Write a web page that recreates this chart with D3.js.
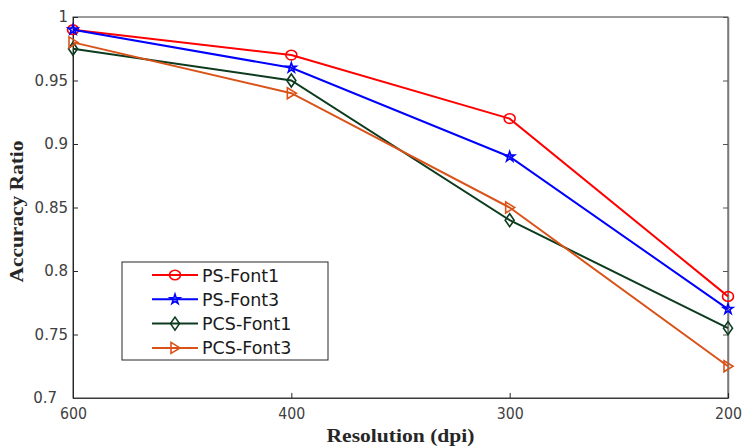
<!DOCTYPE html>
<html>
<head>
<meta charset="utf-8">
<script src="https://cdn.jsdelivr.net/npm/d3@7"></script>
<style>
  html, body { margin: 0; padding: 0; background: #fff; }
  svg { display: block; }
</style>
</head>
<body>
<svg id="chart" width="743" height="448"></svg>
<script>
// Resolution categories (dpi), shown evenly spaced
const resolutions = ["600", "400", "300", "200"];

// Accuracy ratio per series
const psFont1  = [0.99, 0.97, 0.92, 0.78];
const psFont3  = [0.99, 0.96, 0.89, 0.77];
const pcsFont1 = [0.975, 0.95, 0.84, 0.755];
const pcsFont3 = [0.98, 0.94, 0.85, 0.725];

const seriesNames = ["PS-Font1", "PS-Font3", "PCS-Font1", "PCS-Font3"];
const yTicks = [0.7, 0.75, 0.8, 0.85, 0.9, 0.95, 1];

const series = [
  { name: seriesNames[0], values: psFont1,  color: "#ff0000", marker: "circle" },
  { name: seriesNames[1], values: psFont3,  color: "#0000ff", marker: "star" },
  { name: seriesNames[2], values: pcsFont1, color: "#0d3b1f", marker: "diamond" },
  { name: seriesNames[3], values: pcsFont3, color: "#d95319", marker: "triangle" }
];

const svg = d3.select("#chart");
const plotLeft = 73, plotRight = 728, plotTop = 17, plotBottom = 398;

const x = d3.scalePoint().domain(resolutions).range([plotLeft, plotRight]).padding(0);
const y = d3.scaleLinear().domain([0.7, 1]).range([plotBottom, plotTop]);

// Marker paths centred on the origin
function markerPath(type) {
  switch (type) {
    case "circle":
      return "M-5.5,0A5.5,4.8 0 1,0 5.5,0A5.5,4.8 0 1,0 -5.5,0Z";
    case "star":
      return d3.symbol().type(d3.symbolStar).size(30)();
    case "diamond":
      return "M0,-6.5L4.5,0L0,6.5L-4.5,0Z";
    case "triangle":
      return "M-4,-5.5L5,0L-4,5.5Z";
  }
}

// Plot box
svg.append("rect")
  .attr("x", plotLeft).attr("y", plotTop)
  .attr("width", plotRight - plotLeft).attr("height", plotBottom - plotTop)
  .attr("fill", "none").attr("stroke", "#3a3a3a").attr("stroke-width", 1);

// Y axis (ticks pointing inward)
const yAxis = d3.axisLeft(y).tickValues(yTicks).tickSizeInner(-5).tickSizeOuter(0)
  .tickFormat(d => String(+d.toFixed(2)));
const gy = svg.append("g").attr("transform", `translate(${plotLeft},0)`).call(yAxis);
gy.select(".domain").attr("stroke", "#262626");
gy.selectAll(".tick line").attr("stroke", "#262626");
gy.selectAll(".tick text")
  .attr("x", d => d === 0.7 ? -16 : -5)
  .attr("fill", "#404040")
  .style("font-family", "DejaVu Sans")
  .style("font-size", "15px");

// Right-side ticks
const yAxisR = d3.axisRight(y).tickValues(yTicks).tickSizeInner(-5).tickSizeOuter(0).tickFormat("");
const gyr = svg.append("g").attr("transform", `translate(${plotRight},0)`).call(yAxisR);
gyr.select(".domain").attr("stroke", "#7a7a7a").attr("stroke-width", 1.5);
gyr.selectAll(".tick line").attr("stroke", "#555");

// X axis (ticks pointing inward)
const xAxis = d3.axisBottom(x).tickSizeInner(-5).tickSizeOuter(0);
const gx = svg.append("g").attr("transform", `translate(0,${plotBottom})`).call(xAxis);
gx.select(".domain").attr("stroke", "#3a3a3a");
gx.selectAll(".tick line").attr("stroke", "#262626");
gx.selectAll(".tick text")
  .attr("y", 9)
  .attr("textLength", 27).attr("lengthAdjust", "spacingAndGlyphs")
  .attr("fill", "#404040")
  .style("font-family", "DejaVu Sans")
  .style("font-size", "16.5px");

// Axis titles
svg.append("text")
  .attr("x", (plotLeft + plotRight) / 2).attr("y", 442)
  .attr("text-anchor", "middle")
  .attr("textLength", 148).attr("lengthAdjust", "spacingAndGlyphs")
  .attr("fill", "#262626")
  .style("font-family", "Liberation Serif").style("font-weight", "bold").style("font-size", "19.5px")
  .text("Resolution (dpi)");

svg.append("text")
  .attr("transform", `translate(23,${(plotTop + plotBottom) / 2 + 4}) rotate(-90)`)
  .attr("text-anchor", "middle")
  .attr("textLength", 142).attr("lengthAdjust", "spacingAndGlyphs")
  .attr("fill", "#262626")
  .style("font-family", "Liberation Serif").style("font-weight", "bold").style("font-size", "19.5px")
  .text("Accuracy Ratio");

// Series lines and markers
const line = d3.line().x((d, i) => x(resolutions[i])).y(d => y(d));

series.forEach(s => {
  const g = svg.append("g");
  g.append("path")
    .attr("d", line(s.values))
    .attr("fill", "none").attr("stroke", s.color).attr("stroke-width", 2);
  g.selectAll("path.mk").data(s.values).enter().append("path")
    .attr("class", "mk")
    .attr("d", markerPath(s.marker))
    .attr("transform", (d, i) => `translate(${x(resolutions[i])},${y(d)})`)
    .attr("fill", "none").attr("stroke", s.color).attr("stroke-width", 1.6);
});

// Legend
const lg = svg.append("g");
lg.append("rect")
  .attr("x", 122).attr("y", 262).attr("width", 206).attr("height", 98)
  .attr("fill", "#fff").attr("stroke", "#262626").attr("stroke-width", 1);

series.forEach((s, i) => {
  const cy = 275 + i * 24.3;
  lg.append("line")
    .attr("x1", 152).attr("x2", 198).attr("y1", cy).attr("y2", cy)
    .attr("stroke", s.color).attr("stroke-width", 2);
  lg.append("path")
    .attr("d", markerPath(s.marker))
    .attr("transform", `translate(175,${cy})`)
    .attr("fill", "none").attr("stroke", s.color).attr("stroke-width", 1.6);
  lg.append("text")
    .attr("x", 202).attr("y", cy + 6.5)
    .attr("fill", "#1a1a1a")
    .style("font-family", "DejaVu Sans").style("font-size", "17.5px")
    .text(s.name);
});
</script>
</body>
</html>
